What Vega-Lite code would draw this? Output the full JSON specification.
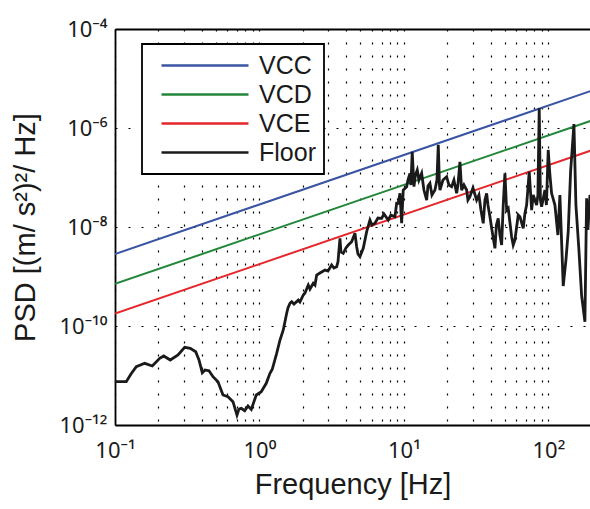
{
  "$schema": "https://vega.github.io/schema/vega-lite/v6.json",
  "width": 475,
  "height": 396,
  "autosize": {"type": "none"},
  "padding": {"left": 115, "top": 29, "right": 0, "bottom": 84},
  "background": "white",
  "config": {
    "view": {"stroke": null},
    "font": "Liberation Sans",
    "legend": {"strokeWidth": 1.8},
    "axis": {
      "labelFont": "Noto Sans",
      "titleFont": "Liberation Sans",
      "labelFontSize": 22,
      "titleFontSize": 29,
      "titleFontWeight": "normal",
      "labelColor": "#1a1a1a",
      "titleColor": "#1a1a1a",
      "domainColor": "black",
      "domainWidth": 1.8,
      "gridColor": "black",
      "gridOpacity": 1,
      "gridWidth": 1.2,
      "gridDash": [2, 11],
      "ticks": false,
      "labelOverlap": false,
      "labelBound": false,
      "labelFlush": false
    }
  },
  "data": {
    "values": [
      {"s": "VCC", "f": 0.1, "p": 2.85e-9},
      {"s": "VCC", "f": 200, "p": 5.7e-6},
      {"s": "VCD", "f": 0.1, "p": 7.1e-10},
      {"s": "VCD", "f": 200, "p": 1.42e-6},
      {"s": "VCE", "f": 0.1, "p": 1.78e-10},
      {"s": "VCE", "f": 200, "p": 3.56e-7},
      {"s": "Floor", "f": 0.1, "p": 7.5e-12},
      {"s": "Floor", "f": 0.1197, "p": 7.5e-12},
      {"s": "Floor", "f": 0.129, "p": 1.072e-11},
      {"s": "Floor", "f": 0.1404, "p": 1.507e-11},
      {"s": "Floor", "f": 0.1606, "p": 1.762e-11},
      {"s": "Floor", "f": 0.1812, "p": 1.556e-11},
      {"s": "Floor", "f": 0.2039, "p": 2.223e-11},
      {"s": "Floor", "f": 0.2173, "p": 2.477e-11},
      {"s": "Floor", "f": 0.2414, "p": 2.056e-11},
      {"s": "Floor", "f": 0.2729, "p": 2.594e-11},
      {"s": "Floor", "f": 0.3037, "p": 3.715e-11},
      {"s": "Floor", "f": 0.332, "p": 3.54e-11},
      {"s": "Floor", "f": 0.3619, "p": 3.027e-11},
      {"s": "Floor", "f": 0.3814, "p": 2.056e-11},
      {"s": "Floor", "f": 0.4019, "p": 1.14e-11},
      {"s": "Floor", "f": 0.4196, "p": 1.291e-11},
      {"s": "Floor", "f": 0.4472, "p": 1.25e-11},
      {"s": "Floor", "f": 0.4767, "p": 9.46e-12},
      {"s": "Floor", "f": 0.5163, "p": 7.5e-12},
      {"s": "Floor", "f": 0.559, "p": 4.04e-12},
      {"s": "Floor", "f": 0.6053, "p": 3.73e-12},
      {"s": "Floor", "f": 0.6556, "p": 2.96e-12},
      {"s": "Floor", "f": 0.6988, "p": 1.59e-12},
      {"s": "Floor", "f": 0.7214, "p": 2.1e-12},
      {"s": "Floor", "f": 0.7482, "p": 2.17e-12},
      {"s": "Floor", "f": 0.79, "p": 1.945e-12},
      {"s": "Floor", "f": 0.8326, "p": 2.42e-12},
      {"s": "Floor", "f": 0.8776, "p": 2.07e-12},
      {"s": "Floor", "f": 0.9501, "p": 4.04e-12},
      {"s": "Floor", "f": 1.029, "p": 4.71e-12},
      {"s": "Floor", "f": 1.114, "p": 6.95e-12},
      {"s": "Floor", "f": 1.182, "p": 1.107e-11},
      {"s": "Floor", "f": 1.226, "p": 1.334e-11},
      {"s": "Floor", "f": 1.315, "p": 2.805e-11},
      {"s": "Floor", "f": 1.387, "p": 5.21e-11},
      {"s": "Floor", "f": 1.461, "p": 8.3e-11},
      {"s": "Floor", "f": 1.543, "p": 1.807e-10},
      {"s": "Floor", "f": 1.575, "p": 2.31e-10},
      {"s": "Floor", "f": 1.626, "p": 2.877e-10},
      {"s": "Floor", "f": 1.671, "p": 3.097e-10},
      {"s": "Floor", "f": 1.733, "p": 2.78e-10},
      {"s": "Floor", "f": 1.809, "p": 3.1e-10},
      {"s": "Floor", "f": 1.855, "p": 3.35e-10},
      {"s": "Floor", "f": 1.906, "p": 3.05e-10},
      {"s": "Floor", "f": 2.01, "p": 4.23e-10},
      {"s": "Floor", "f": 2.065, "p": 4.64e-10},
      {"s": "Floor", "f": 2.176, "p": 6.73e-10},
      {"s": "Floor", "f": 2.236, "p": 5.58e-10},
      {"s": "Floor", "f": 2.357, "p": 7.29e-10},
      {"s": "Floor", "f": 2.422, "p": 6.73e-10},
      {"s": "Floor", "f": 2.488, "p": 1.072e-9},
      {"s": "Floor", "f": 2.622, "p": 1.178e-9},
      {"s": "Floor", "f": 2.84, "p": 1.352e-9},
      {"s": "Floor", "f": 2.979, "p": 1.291e-9},
      {"s": "Floor", "f": 3.16, "p": 1.706e-9},
      {"s": "Floor", "f": 3.278, "p": 1.486e-9},
      {"s": "Floor", "f": 3.422, "p": 1.578e-9},
      {"s": "Floor", "f": 3.494, "p": 1.963e-9},
      {"s": "Floor", "f": 3.607, "p": 5.92e-9},
      {"s": "Floor", "f": 3.664, "p": 3.126e-9},
      {"s": "Floor", "f": 3.801, "p": 2.94e-9},
      {"s": "Floor", "f": 3.968, "p": 3.767e-9},
      {"s": "Floor", "f": 4.117, "p": 4.325e-9},
      {"s": "Floor", "f": 4.345, "p": 5.05e-9},
      {"s": "Floor", "f": 4.58, "p": 7.46e-9},
      {"s": "Floor", "f": 4.706, "p": 4.0e-9},
      {"s": "Floor", "f": 4.805, "p": 2.85e-9},
      {"s": "Floor", "f": 4.96, "p": 2.51e-9},
      {"s": "Floor", "f": 5.228, "p": 3.715e-9},
      {"s": "Floor", "f": 5.52, "p": 8.04e-9},
      {"s": "Floor", "f": 5.817, "p": 1.384e-8},
      {"s": "Floor", "f": 6.005, "p": 1.096e-8},
      {"s": "Floor", "f": 6.3, "p": 1.189e-8},
      {"s": "Floor", "f": 6.607, "p": 1.52e-8},
      {"s": "Floor", "f": 7.01, "p": 1.5e-8},
      {"s": "Floor", "f": 7.27, "p": 1.832e-8},
      {"s": "Floor", "f": 7.785, "p": 1.384e-8},
      {"s": "Floor", "f": 8.128, "p": 1.746e-8},
      {"s": "Floor", "f": 8.666, "p": 1.614e-8},
      {"s": "Floor", "f": 8.902, "p": 3.013e-8},
      {"s": "Floor", "f": 9.134, "p": 3.01e-8},
      {"s": "Floor", "f": 9.383, "p": 4.8e-8},
      {"s": "Floor", "f": 9.64, "p": 1.189e-8},
      {"s": "Floor", "f": 9.889, "p": 5.58e-8},
      {"s": "Floor", "f": 10.44, "p": 6.52e-8},
      {"s": "Floor", "f": 10.66, "p": 8.89e-8},
      {"s": "Floor", "f": 11.0, "p": 1.216e-7},
      {"s": "Floor", "f": 11.18, "p": 7.05e-8},
      {"s": "Floor", "f": 11.41, "p": 3.32e-7},
      {"s": "Floor", "f": 11.73, "p": 6.52e-8},
      {"s": "Floor", "f": 12.01, "p": 1.124e-7},
      {"s": "Floor", "f": 12.36, "p": 1.419e-7},
      {"s": "Floor", "f": 12.7, "p": 8.89e-8},
      {"s": "Floor", "f": 13.26, "p": 1.216e-7},
      {"s": "Floor", "f": 13.75, "p": 5.58e-8},
      {"s": "Floor", "f": 14.36, "p": 3.51e-8},
      {"s": "Floor", "f": 14.66, "p": 6.73e-8},
      {"s": "Floor", "f": 15.13, "p": 7.64e-8},
      {"s": "Floor", "f": 15.62, "p": 4.43e-8},
      {"s": "Floor", "f": 16.39, "p": 5.58e-8},
      {"s": "Floor", "f": 16.92, "p": 8.89e-8},
      {"s": "Floor", "f": 17.28, "p": 4.6e-7},
      {"s": "Floor", "f": 17.61, "p": 7.05e-8},
      {"s": "Floor", "f": 17.75, "p": 5.58e-8},
      {"s": "Floor", "f": 18.62, "p": 8.89e-8},
      {"s": "Floor", "f": 19.75, "p": 1.038e-7},
      {"s": "Floor", "f": 20.48, "p": 7.05e-8},
      {"s": "Floor", "f": 21.38, "p": 6.52e-8},
      {"s": "Floor", "f": 22.18, "p": 8.89e-8},
      {"s": "Floor", "f": 23.16, "p": 4.8e-8},
      {"s": "Floor", "f": 23.64, "p": 7.05e-8},
      {"s": "Floor", "f": 24.41, "p": 2.08e-7},
      {"s": "Floor", "f": 25.08, "p": 5.58e-8},
      {"s": "Floor", "f": 26.02, "p": 7.05e-8},
      {"s": "Floor", "f": 27.16, "p": 5.58e-8},
      {"s": "Floor", "f": 27.73, "p": 3.51e-8},
      {"s": "Floor", "f": 28.62, "p": 4.09e-8},
      {"s": "Floor", "f": 30.03, "p": 6.14e-8},
      {"s": "Floor", "f": 31.85, "p": 3.51e-8},
      {"s": "Floor", "f": 33.04, "p": 4.43e-8},
      {"s": "Floor", "f": 34.11, "p": 2.2e-8},
      {"s": "Floor", "f": 35.39, "p": 1.189e-8},
      {"s": "Floor", "f": 36.36, "p": 3.51e-8},
      {"s": "Floor", "f": 37.36, "p": 4.8e-8},
      {"s": "Floor", "f": 38.14, "p": 2.78e-8},
      {"s": "Floor", "f": 39.38, "p": 1.614e-8},
      {"s": "Floor", "f": 40.64, "p": 8.69e-9},
      {"s": "Floor", "f": 42.64, "p": 3.715e-9},
      {"s": "Floor", "f": 43.66, "p": 1.096e-8},
      {"s": "Floor", "f": 44.94, "p": 1.5e-8},
      {"s": "Floor", "f": 46.17, "p": 6.89e-9},
      {"s": "Floor", "f": 47.44, "p": 4.325e-9},
      {"s": "Floor", "f": 48.66, "p": 2.78e-8},
      {"s": "Floor", "f": 50.0, "p": 1.216e-7},
      {"s": "Floor", "f": 51.37, "p": 2.2e-8},
      {"s": "Floor", "f": 52.7, "p": 2.39e-8},
      {"s": "Floor", "f": 55.63, "p": 6.37e-9},
      {"s": "Floor", "f": 57.07, "p": 4.325e-9},
      {"s": "Floor", "f": 58.64, "p": 5.46e-9},
      {"s": "Floor", "f": 61.8, "p": 1.746e-8},
      {"s": "Floor", "f": 63.5, "p": 1.614e-8},
      {"s": "Floor", "f": 66.93, "p": 9.42e-9},
      {"s": "Floor", "f": 68.77, "p": 1.89e-8},
      {"s": "Floor", "f": 70.65, "p": 2.78e-8},
      {"s": "Floor", "f": 73.65, "p": 1.31e-7},
      {"s": "Floor", "f": 76.51, "p": 2.2e-8},
      {"s": "Floor", "f": 78.49, "p": 4.43e-8},
      {"s": "Floor", "f": 82.85, "p": 2.78e-8},
      {"s": "Floor", "f": 84.58, "p": 4.43e-8},
      {"s": "Floor", "f": 86.36, "p": 2.5e-6},
      {"s": "Floor", "f": 88.03, "p": 3.51e-8},
      {"s": "Floor", "f": 89.73, "p": 2.57e-8},
      {"s": "Floor", "f": 94.58, "p": 5.58e-8},
      {"s": "Floor", "f": 96.87, "p": 2.78e-8},
      {"s": "Floor", "f": 99.68, "p": 3.6e-7},
      {"s": "Floor", "f": 102.4, "p": 1.124e-7},
      {"s": "Floor", "f": 105.2, "p": 4.8e-8},
      {"s": "Floor", "f": 110.9, "p": 2.78e-8},
      {"s": "Floor", "f": 116.3, "p": 6.89e-9},
      {"s": "Floor", "f": 120.1, "p": 4.43e-8},
      {"s": "Floor", "f": 126.6, "p": 6.43e-10},
      {"s": "Floor", "f": 132.2, "p": 2.15e-9},
      {"s": "Floor", "f": 137.1, "p": 8.04e-9},
      {"s": "Floor", "f": 142.4, "p": 1.31e-7},
      {"s": "Floor", "f": 150.2, "p": 1.205e-6},
      {"s": "Floor", "f": 155.0, "p": 2.78e-8},
      {"s": "Floor", "f": 162.6, "p": 3.43e-9},
      {"s": "Floor", "f": 169.8, "p": 4.04e-10},
      {"s": "Floor", "f": 178.9, "p": 1.22e-10},
      {"s": "Floor", "f": 183.8, "p": 3.8e-8},
      {"s": "Floor", "f": 187.7, "p": 8.69e-9},
      {"s": "Floor", "f": 193.8, "p": 4.43e-8},
      {"s": "Floor", "f": 200, "p": 3.51e-8}
    ]
  },
  "encoding": {
    "y": {
      "field": "p",
      "type": "quantitative",
      "scale": {"type": "log", "domain": [1e-12, 1e-4], "nice": false},
      "axis": {
        "title": "PSD [(m/ s²)²/ Hz]",
        "values": [1e-12, 1e-10, 1e-8, 1e-6, 1e-4],
        "labelExpr": "round(log(datum.value)/LN10) == -12 ? '10⁻¹²' : round(log(datum.value)/LN10) == -10 ? '10⁻¹⁰' : round(log(datum.value)/LN10) == -8 ? '10⁻⁸' : round(log(datum.value)/LN10) == -6 ? '10⁻⁶' : '10⁻⁴'",
        "labelPadding": 8,
        "titlePadding": 18,
        "grid": true
      }
    },
    "color": {
      "field": "s",
      "type": "nominal",
      "scale": {"domain": ["VCC", "VCD", "VCE", "Floor"], "range": ["#3a54a4", "#22873a", "#e5262b", "#1a1a1a"]},
      "legend": {
        "title": null,
        "orient": "none",
        "legendX": 27,
        "legendY": 15,
        "symbolType": "M-0.1667,0H7.0833",
        "symbolSize": 576,
        "symbolStrokeWidth": 2.5,
        "labelFontSize": 25,
        "labelFont": "Liberation Sans",
        "labelColor": "#1a1a1a",
        "labelOffset": 82,
        "strokeColor": "black",
        "fillColor": "white",
        "padding": 8,
        "rowPadding": 2
      }
    }
  },
  "layer": [
    {
      "transform": [{"filter": "datum.s !== 'Floor'"}],
      "mark": {"type": "line", "strokeWidth": 2, "clip": true},
      "encoding": {
        "x": {
          "field": "f",
          "type": "quantitative",
          "scale": {"type": "log", "domain": [0.1, 194], "nice": false},
          "axis": {
            "orient": "bottom",
            "title": "Frequency [Hz]",
            "values": [0.1, 0.2, 0.3, 0.4, 0.5, 0.6, 0.7, 0.8, 0.9, 1, 2, 3, 4, 5, 6, 7, 8, 9, 10, 20, 30, 40, 50, 60, 70, 80, 90, 100],
            "labelExpr": "datum.value == 0.1 ? '10⁻¹' : datum.value == 1 ? '10⁰' : datum.value == 10 ? '10¹' : datum.value == 100 ? '10²' : ''",
            "labelPadding": 15,
            "titlePadding": 9,
            "grid": true
          }
        }
      }
    },
    {
      "transform": [{"filter": "datum.s === 'Floor'"}],
      "mark": {"type": "line", "strokeWidth": 2.8, "clip": true},
      "encoding": {
        "x": {
          "field": "f",
          "type": "quantitative",
          "scale": {"type": "log", "domain": [0.1, 194], "nice": false},
          "axis": {"orient": "top", "title": null, "labels": false, "grid": false, "ticks": false, "domain": true}
        }
      }
    }
  ],
  "resolve": {"axis": {"x": "independent"}}
}
